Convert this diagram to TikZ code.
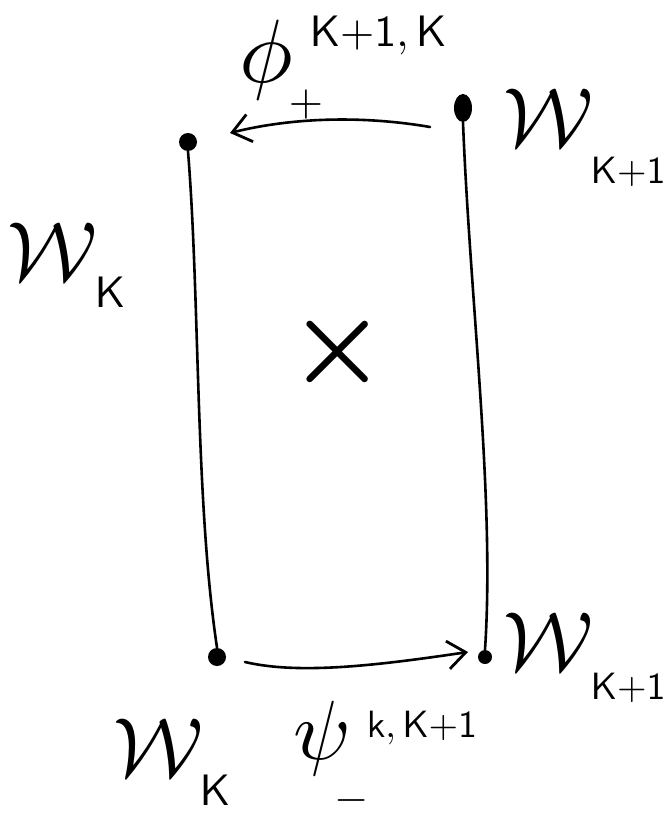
\documentclass[tikz,border=0pt]{standalone}
\usetikzlibrary{arrows.meta,shapes.geometric}
\begin{document}
\begin{tikzpicture}[x=0.5pt,y=-0.5pt,
  pen/.style={line width=1.3pt,line cap=round},
  arr/.style={pen,-{Straight Barb[length=9pt,width=14pt,line width=1.4pt]}},
  dotnode/.style={circle,fill=black,inner sep=0pt,minimum size=9pt},
  lab/.style={inner sep=0pt}]
\useasboundingbox (0,0) rectangle (668,813);
% dots
\node[dotnode] (tl) at (188,142) {};
\node[ellipse,fill=black,inner sep=0pt,minimum width=9pt,minimum height=14pt] (tr) at (463,108) {};
\node[dotnode] (bl) at (217,657) {};
\node[dotnode,minimum size=7pt] (br) at (485,657) {};
% sides
\draw[pen] (tl.south) .. controls (200,300) and (195,500) .. (bl.north);
\draw[pen] (br.north) .. controls (495,500) and (470,300) .. (tr.south);
% arrows
\coordinate (ta) at (430,127);
\coordinate (tb) at (230,133);
\draw[arr] (ta) .. controls (360,115) and (290,118) .. (tb);
\coordinate (ba) at (245,662);
\coordinate (bb) at (468,652);
\draw[arr] (ba) .. controls (300,675) and (380,665) .. (bb);
% center cross
\node[lab] (x) at (338,352) {\scalebox{5.5}{\boldmath$\times$}};
% labels
\node[lab] (wtr) at (548,118) {\scalebox{4.2}{$\mathcal{W}$}};
\node[lab,anchor=east] (wtrs) at (666,172) {\scalebox{1.9}{$\mathsf{K{+}1}$}};
\node[lab] (wl) at (52,252) {\scalebox{4.2}{$\mathcal{W}$}};
\node[lab] (wls) at (110,292) {\scalebox{2.2}{$\mathsf{K}$}};
\node[lab] (wbr) at (548,642) {\scalebox{4.2}{$\mathcal{W}$}};
\node[lab,anchor=east] (wbrs) at (666,688) {\scalebox{1.9}{$\mathsf{K{+}1}$}};
\node[lab] (wbl) at (158,748) {\scalebox{4.2}{$\mathcal{W}$}};
\node[lab] (wbls) at (215,790) {\scalebox{2.2}{$\mathsf{K}$}};
\node[lab] (phi) at (266,60) {\scalebox{4.5}{$\phi$}};
\node[lab] (phip) at (306,104) {\scalebox{2.2}{$+$}};
\node[lab] (phis) at (378,36) {\scalebox{2.2}{$\mathsf{K{+}1,K}$}};
\node[lab] (psi) at (322,738) {\scalebox{4.2}{$\psi$}};
\node[lab] (psim) at (352,800) {\scalebox{2.2}{$-$}};
\node[lab] (psis) at (422,728) {\scalebox{1.9}{$\mathsf{k,K{+}1}$}};
\end{tikzpicture}
\end{document}
